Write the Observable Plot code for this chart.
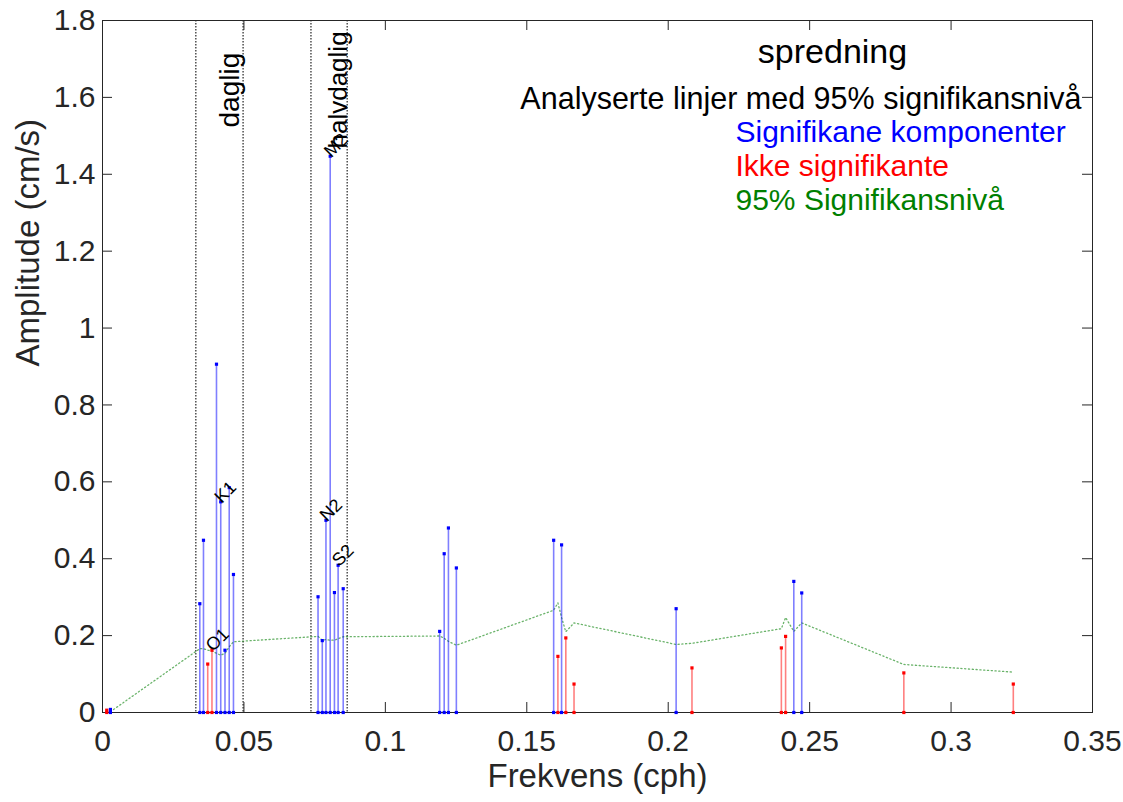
<!DOCTYPE html>
<html>
<head>
<meta charset="utf-8">
<script src="https://cdn.jsdelivr.net/npm/d3@7"></script>
<script src="https://cdn.jsdelivr.net/npm/@observablehq/plot@0.6"></script>
<style>
  html, body { margin: 0; padding: 0; background: white; }
  #chart svg { display: block; max-width: none; }
</style>
</head>
<body>
<div id="chart"></div>
<script>
// Tidal constituents (frequency in cph), amplitudes (cm/s), significance and 95% level
const names = ["MM","MSF","ALP1","2Q1","Q1","O1","NO1","K1","J1","OO1","UPS1",
  "EPS2","MU2","N2","M2","L2","S2","ETA2",
  "MO3","M3","MK3","SK3",
  "MN4","M4","SN4","MS4","S4",
  "2MK5","2SK5",
  "2MN6","M6","2MS6","2SM6",
  "3MK7","M8"];
const freq = [0.0015,0.0028,0.0344,0.0357,0.0372,0.0387,0.0403,0.0418,0.0433,0.0448,0.0463,
  0.0762,0.0777,0.0790,0.0805,0.0820,0.0833,0.0851,
  0.1192,0.1208,0.1223,0.1251,
  0.1595,0.1610,0.1623,0.1638,0.1667,
  0.2028,0.2084,
  0.2400,0.2415,0.2444,0.2472,
  0.2833,0.3220];
const amp = [0.006,0.008,0.283,0.448,0.126,0.162,0.906,0.548,0.162,0.585,0.359,
  0.301,0.187,0.500,1.447,0.312,0.383,0.322,
  0.211,0.413,0.480,0.376,
  0.448,0.146,0.436,0.194,0.074,
  0.270,0.116,
  0.168,0.198,0.341,0.311,
  0.103,0.074];
const significant = [false,true,true,true,false,false,true,true,true,true,true,
  true,true,true,true,true,true,true,
  true,true,true,true,
  true,false,true,false,false,
  true,false,
  false,false,true,true,
  false,false];
const sigLevel = [0.000,0.002,0.166,0.166,0.162,0.160,0.154,0.149,0.154,0.171,0.184,
  0.198,0.188,0.190,0.188,0.188,0.192,0.197,
  0.199,0.193,0.185,0.175,
  0.266,0.285,0.247,0.210,0.233,
  0.177,0.180,
  0.218,0.247,0.211,0.233,
  0.125,0.105];
const labeled = ["O1","K1","N2","M2","S2"];
const bandEdges = [0.033, 0.0497, 0.0737, 0.0865];
const xTicks = [0, 0.05, 0.1, 0.15, 0.2, 0.25, 0.3, 0.35];
const yTicks = [0, 0.2, 0.4, 0.6, 0.8, 1, 1.2, 1.4, 1.6, 1.8];
const titleText = "spredning";
const subtitleText = "Analyserte linjer med 95% signifikansnivå";
const legendLabels = ["Signifikane komponenter", "Ikke signifikante", "95% Signifikansnivå"];
const legendColors = ["blue", "red", "green"];
const xLabel = "Frekvens (cph)";
const yLabel = "Amplitude (cm/s)";

const rows = names.map((n, i) => ({name: n, f: freq[i], amp: amp[i], sig: significant[i], level: sigLevel[i],
  color: significant[i] ? "blue" : "red"}));
const labelRows = rows.filter(d => labeled.includes(d.name));

const W = 1123, H = 802, mL = 102, mR = 31, mT = 20, mB = 90;
const pw = W - mL - mR, ph = H - mT - mB;
const font = "'Liberation Sans', Arial, Helvetica, sans-serif";
const axisColor = "#262626";
const legendBaselines = [141, 175, 209];

const plot = Plot.plot({
  width: W, height: H,
  marginLeft: mL, marginRight: mR, marginTop: mT, marginBottom: mB,
  x: {domain: [0, 0.35]},
  y: {domain: [0, 1.8]},
  color: {type: "identity"},
  style: {fontFamily: font, background: "white", color: axisColor},
  marks: [
    // band edges (dotted)
    Plot.ruleX(bandEdges, {stroke: "#222", strokeWidth: 1.2, strokeDasharray: "1.5,1.5"}),
    // 95% significance line
    Plot.line(rows, {x: "f", y: "level", stroke: "#1a8a1a", strokeWidth: 1.3, strokeOpacity: 0.65, strokeDasharray: "1.2,2.6"}),
    // stems
    Plot.ruleX(rows, {x: "f", y1: 0, y2: "amp", stroke: "color", strokeWidth: 1.6, strokeOpacity: 0.5}),
    Plot.dot(rows, {x: "f", y: "amp", fill: "color", symbol: "square", r: 1.8}),
    // constituent labels
    Plot.text(labelRows, {x: "f", y: "amp", text: "name", rotate: -45, textAnchor: "start", lineAnchor: "middle",
      dx: -3, dy: -2, fontSize: 18, fill: "black", fontFamily: font}),
    // band labels
    Plot.text(["daglig"], {frameAnchor: "top-left", dx: 238 - mL, dy: 127 - mT, rotate: -90, textAnchor: "start",
      lineAnchor: "bottom", fontSize: 28, fill: "black", fontFamily: font}),
    Plot.text(["halvdaglig"], {frameAnchor: "top-left", dx: 346 - mL, dy: 148 - mT, rotate: -90, textAnchor: "start",
      lineAnchor: "bottom", fontSize: 26, fill: "black", fontFamily: font}),
    // title and legend text
    Plot.text([titleText], {frameAnchor: "top-left", dx: 832 - mL, dy: 62 - mT, textAnchor: "middle", lineAnchor: "bottom",
      fontSize: 34, fill: "black", fontFamily: font}),
    Plot.text([subtitleText], {frameAnchor: "top-left", dx: 1081 - mL, dy: 108 - mT, textAnchor: "end", lineAnchor: "bottom",
      fontSize: 30.5, fill: "black", fontFamily: font}),
    ...legendLabels.map((label, i) =>
      Plot.text([label], {frameAnchor: "top-left", dx: 735 - mL, dy: legendBaselines[i] - mT, textAnchor: "start",
        lineAnchor: "bottom", fontSize: 30, fill: legendColors[i], fontFamily: font})),
    // inward ticks on all four sides
    Plot.gridX(xTicks, {stroke: axisColor, strokeOpacity: 1, insetTop: ph - 10}),
    Plot.gridX(xTicks, {stroke: axisColor, strokeOpacity: 1, insetBottom: ph - 10}),
    Plot.gridY(yTicks, {stroke: axisColor, strokeOpacity: 1, insetRight: pw - 10}),
    Plot.gridY(yTicks, {stroke: axisColor, strokeOpacity: 1, insetLeft: pw - 10}),
    // tick labels
    Plot.axisX(xTicks, {tickSize: 0, tickPadding: 17, fontSize: 30, tickFormat: d => String(d), label: null, fill: axisColor}),
    Plot.axisY(yTicks, {tickSize: 0, tickPadding: 7, fontSize: 30, tickFormat: d => String(d), label: null, fill: axisColor}),
    // axis titles
    Plot.text([xLabel], {frameAnchor: "bottom", dy: 74, lineAnchor: "bottom", fontSize: 33, fill: axisColor, fontFamily: font}),
    Plot.text([yLabel], {frameAnchor: "left", dx: -87, rotate: -90, lineAnchor: "top", fontSize: 33, fill: axisColor, fontFamily: font}),
    Plot.frame({stroke: axisColor, strokeWidth: 1}),
    // stem base markers drawn over the axis line
    Plot.dot(rows, {x: "f", y: () => 0, fill: "color", symbol: "square", r: 1.8})
  ]
});
document.getElementById("chart").appendChild(plot);
</script>
</body>
</html>
